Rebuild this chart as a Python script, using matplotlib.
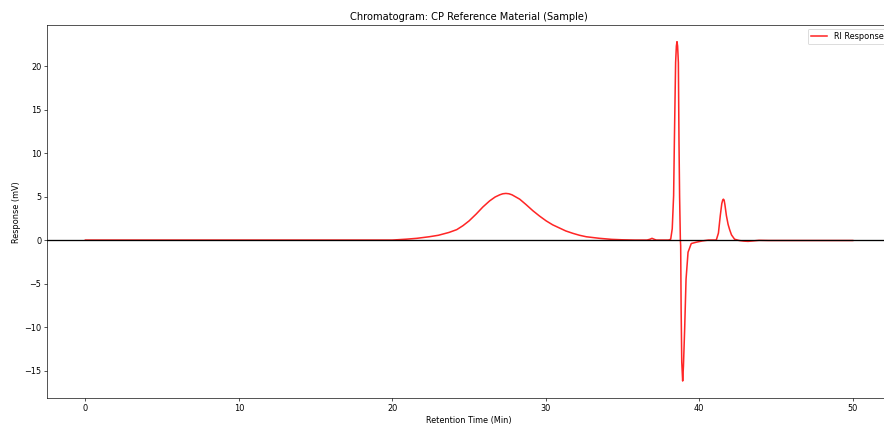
#!/usr/bin/env python3
"""Chromatogram plot of the CP reference material (RI detector trace)."""

import matplotlib

matplotlib.use("Agg")
import matplotlib.pyplot as plt

# ─── Data ───────────────────────────────────────────────────────────────────

retention_time = [
    0.0, 5.0, 10.0, 15.0, 20.0, 20.9, 21.6, 22.4, 23.0, 23.7,
    24.2, 24.6, 25.0, 25.47, 25.9, 26.34, 26.7, 27.0, 27.2, 27.4,
    27.6, 27.8, 28.3, 28.7, 29.16, 29.6, 30.03, 30.45, 30.9, 31.3,
    31.77, 32.2, 32.64, 33.5, 34.3, 35.0, 35.8, 36.6, 36.8, 36.92,
    37.05, 37.2, 38.0, 38.14, 38.24, 38.33, 38.38, 38.46, 38.51, 38.55,
    38.59, 38.64, 38.68, 38.72, 38.77, 38.79, 38.82, 38.86, 38.92, 38.97,
    39.05, 39.14, 39.27, 39.48, 39.8, 40.2, 40.6, 41.11, 41.25, 41.37,
    41.47, 41.53, 41.57, 41.62, 41.67, 41.77, 41.88, 41.98, 42.1, 42.3,
    42.6, 42.9, 43.18, 43.5, 43.9, 44.5, 50.0,
]
ri_response = [
    0.0, 0.0, 0.0, 0.0, 0.0, 0.1, 0.2, 0.38, 0.55, 0.88,
    1.2, 1.65, 2.2, 3.0, 3.8, 4.5, 4.95, 5.2, 5.32, 5.36,
    5.32, 5.2, 4.7, 4.1, 3.37, 2.75, 2.2, 1.75, 1.38, 1.05,
    0.77, 0.55, 0.38, 0.2, 0.08, 0.03, 0.0, 0.0, 0.1, 0.2,
    0.1, 0.0, 0.0, 0.1, 1.3, 5.1, 11.4, 20.4, 22.3, 22.8,
    22.3, 20.4, 11.4, 5.0, 0.0, -0.65, -8.0, -14.0, -16.2, -14.5,
    -10.2, -4.5, -1.4, -0.4, -0.25, -0.1, 0.0, 0.0, 0.8, 2.8,
    4.2, 4.6, 4.7, 4.6, 4.1, 2.8, 1.8, 1.2, 0.6, 0.1,
    -0.05, -0.12, -0.15, -0.1, -0.03, -0.05, -0.05,
]

# ─── Figure ─────────────────────────────────────────────────────────────────

fig = plt.figure(figsize=(15, 7.2), dpi=884 / 15)
ax = fig.add_axes([0.0532, 0.0613, 0.9548, 0.8797])

ax.plot(retention_time, ri_response, color="red", alpha=0.85, linewidth=1.9,
        label="RI Response")
ax.axhline(0, color="black", linewidth=1.6)

ax.set_title("Chromatogram: CP Reference Material (Sample)")
ax.set_xlabel("Retention Time (Min)")
ax.set_ylabel("Response (mV)")
ax.legend(loc="upper right")

fig.savefig("out.png", dpi=884 / 15)
